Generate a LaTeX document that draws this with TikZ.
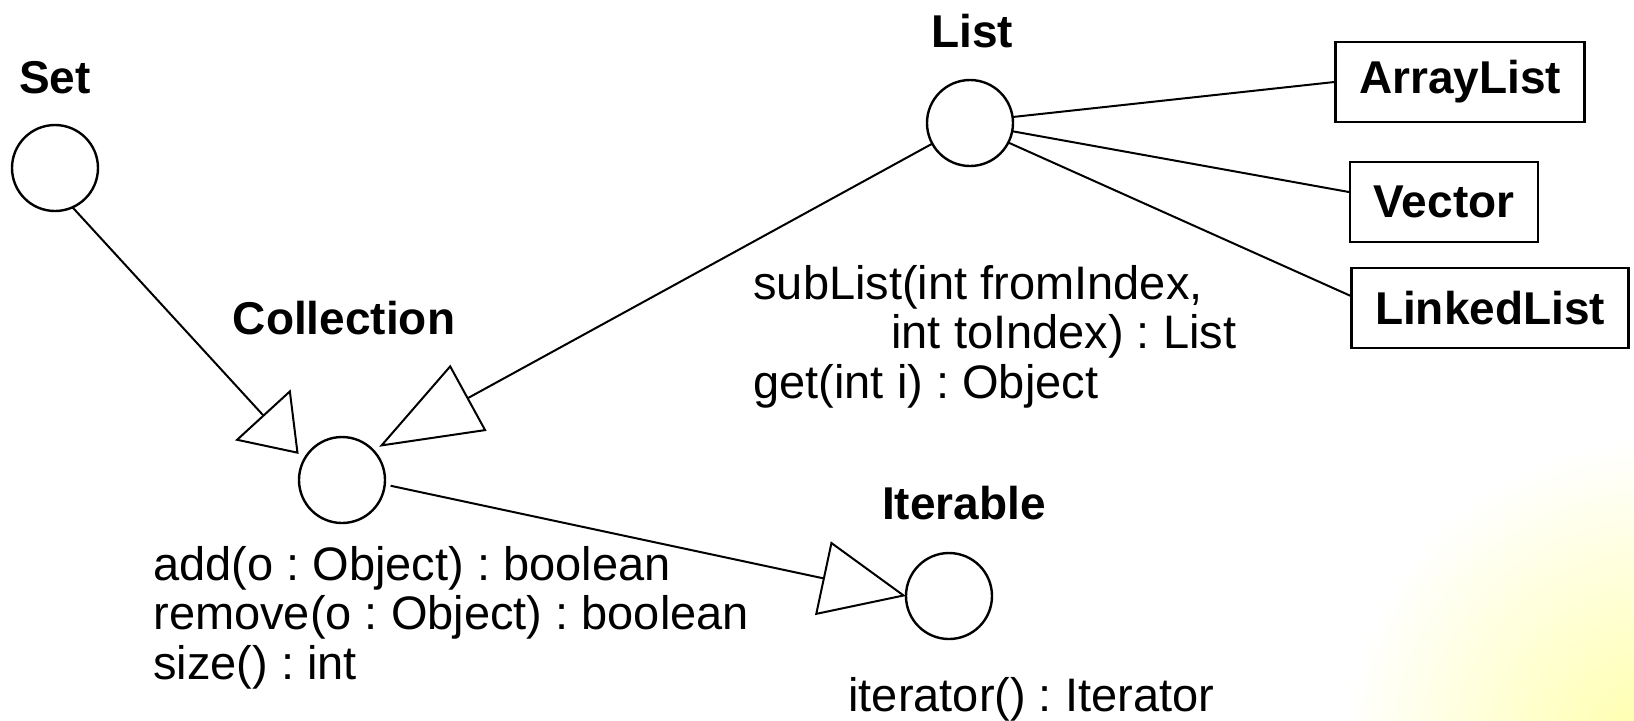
\documentclass[tikz,border=0pt]{standalone}
\usepackage{fontspec}
\setmainfont{Liberation Sans}
\usetikzlibrary{arrows.meta}
\frenchspacing

\begin{document}
\begin{tikzpicture}[x=0.5pt, y=-0.5pt,
    iface/.style={circle, draw, line width=1.2pt, minimum size=43pt, inner sep=0pt, outer sep=0pt},
    cls/.style={draw, line width=1.2pt, minimum height=40pt, inner xsep=11.7pt, font=\bfseries\fontsize{23}{27}\selectfont},
    title/.style={font=\bfseries\fontsize{23}{27}\selectfont},
    ops/.style={anchor=north west, align=left, inner sep=0pt, font=\fontsize{23.5}{24.75}\selectfont},
    link/.style={line width=1pt},
    inherit/.style={line width=1pt, -{Triangle[open, length=#1, width=37.5pt]}}]
    \useasboundingbox (0,0) rectangle (1634,720);
    % faint slide glow, lower right
    \begin{scope}
        \clip (0,0) rectangle (1634,720);
        \shade[inner color=yellow!35, outer color=white] (1660,760) circle (320);
    \end{scope}

    % interfaces
    \node[title] (setlbl) at (55,78) {Set};
    \node[iface] (set) at (55,168) {};
    \node[title] (colllbl) at (344,318) {Collection};
    \node[iface] (coll) at (342,480) {};
    \node[title] (listlbl) at (972,31) {List};
    \node[iface] (list) at (970,123) {};
    \node[title] (iterlbl) at (964,503) {Iterable};
    \node[iface] (iter) at (949,596) {};

    % classes
    \node[cls] (arraylist) at (1460,82) {ArrayList};
    \node[cls] (vector) at (1444,202) {Vector};
    \node[cls] (linkedlist) at (1490,308) {LinkedList};

    % operations
    \node[ops] (collops) at (153,546) {add(o : Object) : boolean\\remove(o : Object) : boolean\\size() : int};
    \node[ops] (listops) at (753,265) {subList(int fromIndex,\\\hspace*{69pt}int toIndex) : List\\get(int i) : Object};
    \node[ops] (iterops) at (848,677) {iterator() : Iterator};

    \draw[inherit=26.5pt, shorten >=4pt] (set.-66) -- (coll.152);
    \draw[inherit=51pt, shorten >=3.5pt] (list) -- (coll.44);
    \draw[inherit=42.5pt, shorten <=3pt] (coll.-6) -- (iter.west);
    \draw[link] (list.8) -- (arraylist.west);
    \draw[link] (list.-11) -- (vector.174);
    \draw[link] (list.-27) -- (linkedlist.175);
\end{tikzpicture}
\end{document}
